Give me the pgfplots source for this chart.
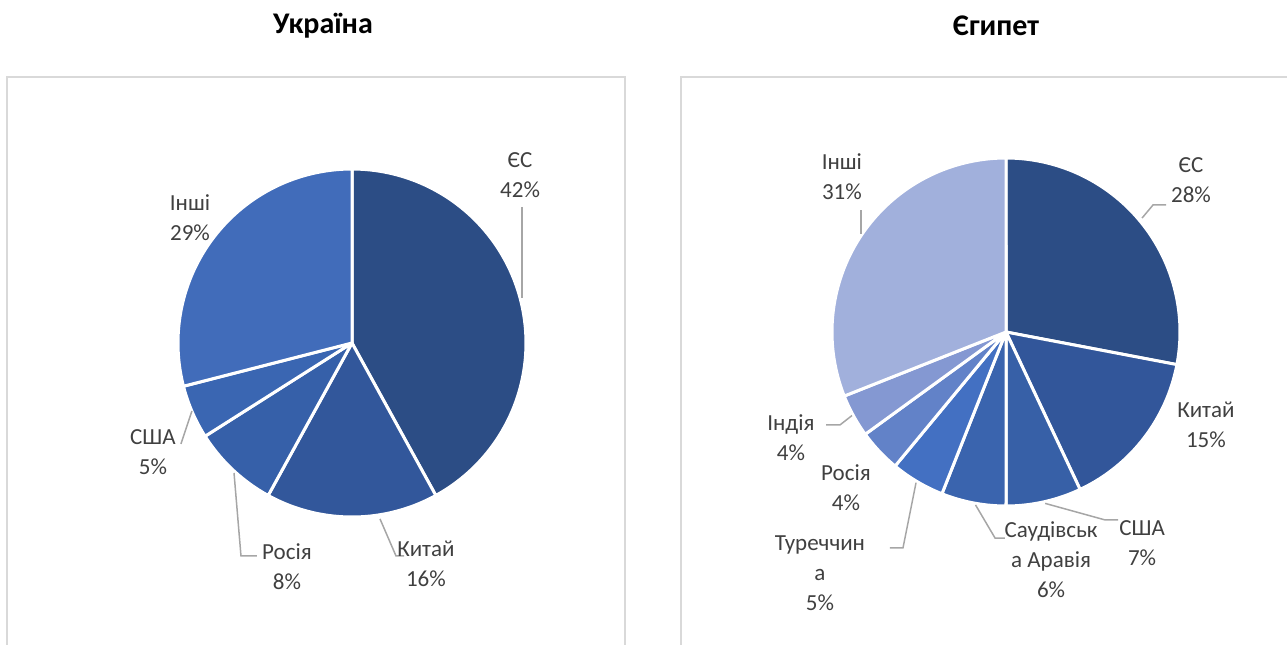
\documentclass[border=0pt]{standalone}
\usepackage{pgfplots}
\usepackage{pgfplotstable}
\pgfplotsset{compat=1.18}
\usepackage{fontspec}
\setmainfont{Carlito}

\definecolor{u1}{HTML}{2C4D85}
\definecolor{u2}{HTML}{32579B}
\definecolor{u3}{HTML}{3660A9}
\definecolor{u4}{HTML}{3A66B2}
\definecolor{u5}{HTML}{416CBA}
\definecolor{e1}{HTML}{2C4D85}
\definecolor{e2}{HTML}{32569A}
\definecolor{e3}{HTML}{3760A7}
\definecolor{e4}{HTML}{3A64AE}
\definecolor{e5}{HTML}{4370C2}
\definecolor{e6}{HTML}{6282C8}
\definecolor{e7}{HTML}{8498D2}
\definecolor{e8}{HTML}{A1B0DC}
\definecolor{lbl}{HTML}{404040}
\definecolor{lead}{HTML}{A6A6A6}
\definecolor{frame}{HTML}{D9D9D9}

\pgfplotstableread[col sep=comma]{
name,value,col
ЄС,42,u1
Китай,16,u2
Росія,8,u3
США,5,u4
Інші,29,u5
}\ukr

\pgfplotstableread[col sep=comma]{
name,value,col
ЄС,28,e1
Китай,15,e2
США,7,e3
Саудівська Аравія,6,e4
Туреччина,5,e5
Росія,4,e6
Індія,4,e7
Інші,31,e8
}\egy

% draw the slices of a pie from a table
\newcommand{\pieslices}[1]{%
  \pgfplotstablegetrowsof{#1}%
  \pgfmathtruncatemacro\lastrow{\pgfplotsretval-1}%
  \def\cumval{0}%
  \pgfplotsforeachungrouped \i in {0,...,\lastrow}{%
    \pgfplotstablegetelem{\i}{value}\of#1\let\sliceval\pgfplotsretval
    \pgfplotstablegetelem{\i}{col}\of#1\let\slicecol\pgfplotsretval
    \pgfmathsetmacro\angA{90-3.6*\cumval}%
    \pgfmathsetmacro\angB{90-3.6*(\cumval+\sliceval)}%
    \edef\temp{\noexpand\addplot[fill=\slicecol, draw=white, line width=1.5pt, line join=round,
      domain=\angB:\angA, samples=80, variable=\noexpand\t]
      ({cos(\noexpand\t)},{sin(\noexpand\t)}) -- (axis cs:0,0) -- cycle;}%
    \temp
    \pgfmathsetmacro\cumval{\cumval+\sliceval}%
  }%
}

\pgfplotsset{
  pieaxis/.style={
    width=174pt, height=174pt, scale only axis,
    xmin=-1, xmax=1, ymin=-1, ymax=1,
    hide axis, clip=false, anchor=origin,
  },
}
\tikzset{
  lab/.style={font=\fontsize{11.5}{15}\selectfont, text=lbl, align=center, inner sep=0pt},
  ldr/.style={draw=lead, line width=0.75pt},
}

\begin{document}
\begin{tikzpicture}
\useasboundingbox (0,0) rectangle (643.5pt,322pt);
\clip (0,0) rectangle (643.5pt,322pt);

% frames
\draw[frame, line width=0.9pt] (3.5pt,283.5pt) rectangle (312.5pt,-30pt);
\draw[frame, line width=0.9pt] (340.5pt,283.5pt) rectangle (680pt,-30pt);

% titles
\node[font=\fontsize{15}{18}\selectfont\bfseries, text=black] at (161.5pt,309pt) {Україна};
\node[font=\fontsize{15}{18}\selectfont\bfseries, text=black] at (498pt,309pt) {Єгипет};

% Ukraine
\begin{axis}[pieaxis, at={(176pt,150.5pt)}]
\pieslices{\ukr}
\draw[ldr] (axis cs:0.977,0.782) -- (axis cs:0.977,0.259);
\draw[ldr] (axis cs:-0.920,-0.391) -- (axis cs:-0.983,-0.580);
\draw[ldr] (axis cs:-0.678,-0.747) -- (axis cs:-0.638,-1.224) -- (axis cs:-0.546,-1.224);
\draw[ldr] (axis cs:0.161,-1.011) -- (axis cs:0.253,-1.224) -- (axis cs:0.299,-1.224);
\node[lab] at (axis cs:0.966,0.963) {ЄС\\42\%};
\node[lab] at (axis cs:-0.931,0.721) {Інші\\29\%};
\node[lab] at (axis cs:-1.144,-0.626) {США\\5\%};
\node[lab] at (axis cs:-0.374,-1.284) {Росія\\8\%};
\node[lab] at (axis cs:0.425,-1.270) {Китай\\16\%};
\end{axis}

% Egypt
\begin{axis}[pieaxis, at={(503pt,156pt)}]
\pieslices{\egy}
\draw[ldr] (axis cs:0.782,0.655) -- (axis cs:0.845,0.730) -- (axis cs:0.920,0.730);
\draw[ldr] (axis cs:-0.833,0.701) -- (axis cs:-0.833,0.563);
\draw[ldr] (axis cs:0.225,-0.985) -- (axis cs:0.569,-1.080) -- (axis cs:0.644,-1.080);
\draw[ldr] (axis cs:-0.175,-0.994) -- (axis cs:-0.063,-1.184) -- (axis cs:-0.006,-1.184);
\draw[ldr] (axis cs:-0.517,-0.866) -- (axis cs:-0.592,-1.241) -- (axis cs:-0.667,-1.241);
\draw[ldr] (axis cs:-0.885,-0.480) -- (axis cs:-0.954,-0.534) -- (axis cs:-1.034,-0.534);
\node[lab] at (axis cs:1.063,0.871) {ЄС\\28\%};
\node[lab] at (axis cs:-0.943,0.894) {Інші\\31\%};
\node[lab] at (axis cs:1.149,-0.534) {Китай\\15\%};
\node[lab] at (axis cs:0.782,-1.216) {США\\7\%};
\node[lab] at (axis cs:0.259,-1.310) {Саудівськ\\а Аравія\\6\%};
\node[lab] at (axis cs:-1.069,-1.385) {Туреччин\\а\\5\%};
\node[lab] at (axis cs:-0.920,-0.894) {Росія\\4\%};
\node[lab] at (axis cs:-1.236,-0.606) {Індія\\4\%};
\end{axis}
\end{tikzpicture}
\end{document}
